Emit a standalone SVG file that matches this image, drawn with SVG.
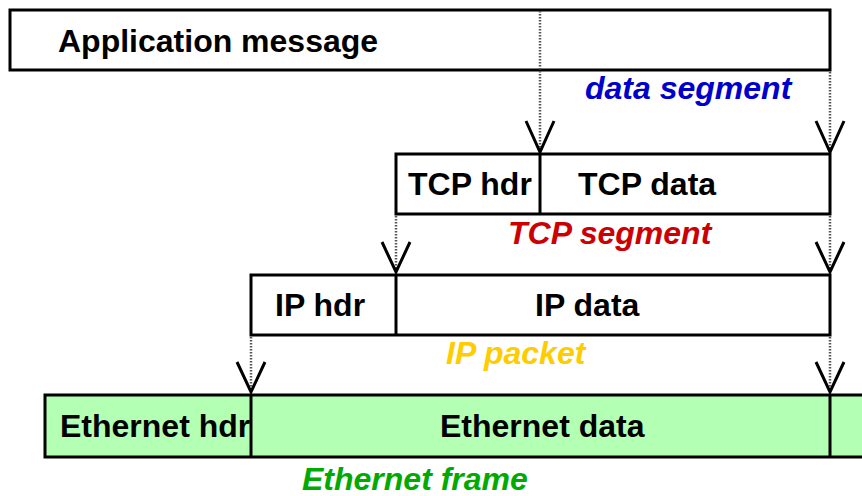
<svg xmlns="http://www.w3.org/2000/svg" width="862" height="496" viewBox="0 0 862 496">
<style>
.box{fill:#fff;stroke:#000;stroke-width:3}
.eth{fill:#b3ffb3;stroke:#000;stroke-width:3}
.div{stroke:#000;stroke-width:3}
.t{font-family:"Liberation Sans",Arial,sans-serif;font-weight:bold;font-size:32px;fill:#000}
.lbl{font-family:"Liberation Sans",Arial,sans-serif;font-weight:bold;font-style:italic;font-size:32px}
.dot{stroke:#555;stroke-width:2.5;stroke-dasharray:1.5,1.5;fill:none}
.arr{stroke:#000;stroke-width:3;fill:none}
</style>
<g id="app">
<rect class="box" x="10" y="10" width="820" height="60"/>
<text class="t" x="58" y="52">Application message</text>
</g>
<text id="lbl-data" class="lbl" x="585" y="99" fill="#0000cc">data segment</text>
<g id="tcp">
<rect class="box" x="396" y="154" width="434" height="60"/>
<line class="div" x1="540" y1="154" x2="540" y2="214"/>
<text class="t" x="408" y="195">TCP hdr</text>
<text class="t" x="578" y="195">TCP data</text>
</g>
<text id="lbl-tcp" class="lbl" x="508" y="244" fill="#cc0000">TCP segment</text>
<g id="ip">
<rect class="box" x="251" y="275" width="579" height="60"/>
<line class="div" x1="396" y1="275" x2="396" y2="335"/>
<text class="t" x="275" y="316">IP hdr</text>
<text class="t" x="535" y="316">IP data</text>
</g>
<text id="lbl-ip" class="lbl" x="446" y="364" fill="#ffcc00">IP packet</text>
<g id="eth">
<rect class="eth" x="45" y="395" width="830" height="62"/>
<line class="div" x1="251" y1="395" x2="251" y2="457"/>
<line class="div" x1="830" y1="395" x2="830" y2="457"/>
<text class="t" x="60" y="437">Ethernet hdr</text>
<text class="t" x="440" y="437">Ethernet data</text>
</g>
<text id="lbl-eth" class="lbl" x="302" y="490" fill="#00aa00">Ethernet frame</text>
<g id="connectors">
<line class="dot" x1="540" y1="11" x2="540" y2="150"/>
<line class="dot" x1="830" y1="72" x2="830" y2="150"/>
<polyline class="arr" points="526,121 540,152 554,121"/>
<polyline class="arr" points="816,121 830,152 844,121"/>
<line class="dot" x1="396" y1="216" x2="396" y2="270"/>
<line class="dot" x1="830" y1="216" x2="830" y2="270"/>
<polyline class="arr" points="382,242 396,272 410,242"/>
<polyline class="arr" points="816,242 830,272 844,242"/>
<line class="dot" x1="251" y1="337" x2="251" y2="390"/>
<line class="dot" x1="830" y1="337" x2="830" y2="390"/>
<polyline class="arr" points="237,362 251,392 265,362"/>
<polyline class="arr" points="816,362 830,392 844,362"/>
</g>
</svg>
